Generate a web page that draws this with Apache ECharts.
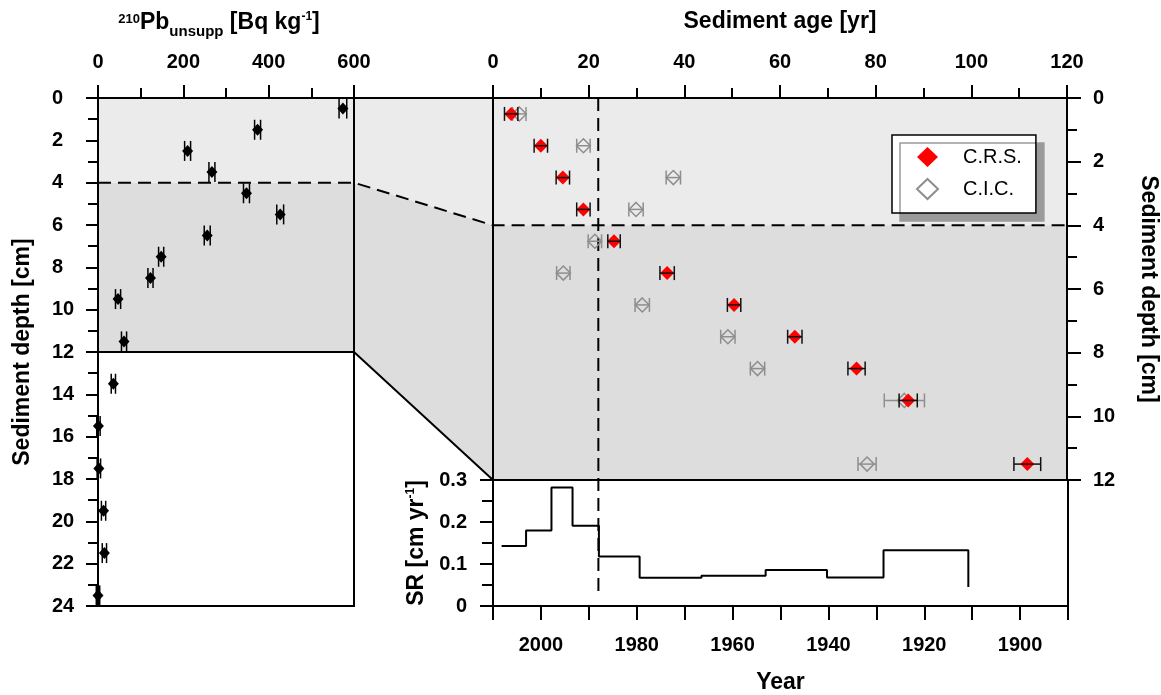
<!DOCTYPE html>
<html>
<head>
<meta charset="utf-8">
<title>210Pb dating</title>
<script src="https://cdn.jsdelivr.net/npm/echarts@6/dist/echarts.min.js"></script>
<style>
  html, body { margin: 0; padding: 0; background: #fff; }
  #main { width: 1161px; height: 695px; }
</style>
</head>
<body>
<div id="main"></div>
<script>
// left panel: unsupported 210Pb activity vs depth
var pbDepth = [0.5, 1.5, 2.5, 3.5, 4.5, 5.5, 6.5, 7.5, 8.5, 9.5, 11.5, 13.5, 15.5, 17.5, 19.5, 21.5, 23.5];
var pbActivity = [574, 374, 210, 267, 348, 427, 256, 148, 123, 47, 61, 36, 1, 2, 13, 15, 0];
var pbError = [9, 7, 7, 7, 7, 8, 7, 6, 6, 6, 6, 5, 4, 4, 5, 5, 4];

// right panel: sediment age vs depth
var ageDepth = [0.5, 1.5, 2.5, 3.5, 4.5, 5.5, 6.5, 7.5, 8.5, 9.5, 11.5];
var crsAge = [3.8, 10.0, 14.6, 18.9, 25.3, 36.4, 50.4, 63.1, 76.0, 86.8, 111.7];
var crsError = [1.4, 1.4, 1.4, 1.4, 1.3, 1.5, 1.4, 1.5, 1.8, 1.9, 2.8];
var cicAge = [5.5, 18.9, 37.7, 29.9, 21.3, 14.7, 31.2, 49.1, 55.3, 86.0, 78.2];
var cicError = [1.4, 1.4, 1.5, 1.5, 1.4, 1.4, 1.5, 1.5, 1.5, 4.2, 1.9];

// bottom panel: sedimentation rate (step starts, last value = end of line)
var srYear = [2008.2, 2003.1, 1997.8, 1993.4, 1987.9, 1979.4, 1966.5, 1953.1, 1940.3, 1928.5, 1910.8];
var srValue = [0.143, 0.180, 0.282, 0.191, 0.118, 0.067, 0.072, 0.086, 0.068, 0.133, 0.045];

var depthBreak = 4;   // dashed boundary
var depthEnd = 12;    // dated section
var markerAge = 22;   // vertical dashed line
var sampleYear = 2010;

var font = '"Liberation Sans", Arial, Helvetica, sans-serif';
var black = '#000';
var grey = '#8e8e8e';
var lightShade = '#ebebeb';
var darkShade = '#dddddd';

var chart = echarts.init(document.getElementById('main'));

function line2() { return { show: true, onZero: false, lineStyle: { color: black, width: 2 } }; }
function tick(len) { return { show: true, length: len, lineStyle: { color: black, width: 2 } }; }
function minor(len) { return { show: true, splitNumber: 2, length: len, lineStyle: { color: black, width: 2 } }; }
function label(margin, extra) {
  var o = { fontSize: 20, fontWeight: 'bold', color: black, fontFamily: font, margin: margin };
  for (var k in extra) o[k] = extra[k];
  return o;
}
var nameStyle = { fontSize: 23, fontWeight: 'bold', color: black, fontFamily: font };
var richParts = {
  main: { fontSize: 23, fontWeight: 'bold', fontFamily: font, color: black, lineHeight: 32, verticalAlign: 'middle' },
  sup: { fontSize: 13, fontWeight: 'bold', fontFamily: font, color: black, verticalAlign: 'top', padding: [6, 0, 0, 0] },
  sub: { fontSize: 15, fontWeight: 'bold', fontFamily: font, color: black, lineHeight: 20, verticalAlign: 'bottom' },
  sup2: { fontSize: 12, fontWeight: 'bold', fontFamily: font, color: black, verticalAlign: 'top', padding: [4, 0, 0, 0] }
};

// horizontal error bar with vertical caps (pixel cap half height)
function xErrBar(color, cap, width) {
  return function (params, api) {
    var v = api.value(0), d = api.value(1), e = api.value(2);
    var a = api.coord([v - e, d]), b = api.coord([v + e, d]);
    var st = { stroke: color, lineWidth: width };
    return {
      type: 'group',
      children: [
        { type: 'line', shape: { x1: a[0], y1: a[1], x2: b[0], y2: b[1] }, style: st },
        { type: 'line', shape: { x1: a[0], y1: a[1] - cap, x2: a[0], y2: a[1] + cap }, style: st },
        { type: 'line', shape: { x1: b[0], y1: b[1] - cap, x2: b[0], y2: b[1] + cap }, style: st }
      ]
    };
  };
}

function zip3(a, b, c) {
  return a.map(function (v, i) { return [v, b[i], c[i]]; });
}

var option = {
  animation: false,
  backgroundColor: '#fff',
  textStyle: { fontFamily: font },
  grid: [
    { left: 98, top: 98, width: 256, height: 508, show: true, borderColor: black, borderWidth: 2, backgroundColor: 'transparent' },
    { left: 493, top: 98, width: 575, height: 382, show: true, borderColor: black, borderWidth: 2, backgroundColor: 'transparent' },
    { left: 493, top: 480, width: 575, height: 127, show: true, borderColor: black, borderWidth: 2, backgroundColor: 'transparent' }
  ],
  xAxis: [
    {
      gridIndex: 0, type: 'value', position: 'top', min: 0, max: 600, interval: 200,
      splitLine: { show: false }, axisLine: line2(), axisTick: tick(13), minorTick: minor(10),
      axisLabel: label(26),
      name: '{sup|210}{main|Pb}{sub|unsupp}{main| [Bq kg}{sup2|-1}{main|]}',
      nameLocation: 'middle', nameGap: 59,
      nameTextStyle: { rich: richParts, padding: [0, 14, 0, 0] }
    },
    {
      gridIndex: 1, type: 'value', position: 'top', min: 0, max: 120, interval: 20,
      splitLine: { show: false }, axisLine: line2(), axisTick: tick(13), minorTick: minor(10),
      axisLabel: label(26),
      name: 'Sediment age [yr]', nameLocation: 'middle', nameGap: 65, nameTextStyle: nameStyle
    },
    {
      gridIndex: 2, type: 'value', position: 'bottom', min: 1890, max: 2010, interval: 10, inverse: true,
      splitLine: { show: false }, axisLine: line2(), axisTick: tick(14),
      axisLabel: label(29, { formatter: function (v) { return v % 20 === 0 ? String(v) : ''; } }),
      name: 'Year', nameLocation: 'middle', nameGap: 65, nameTextStyle: nameStyle
    }
  ],
  yAxis: [
    {
      gridIndex: 0, type: 'value', inverse: true, min: 0, max: 24, interval: 2,
      splitLine: { show: false }, axisLine: line2(), axisTick: tick(12), minorTick: minor(10),
      axisLabel: label(46, { align: 'left' }),
      name: 'Sediment depth [cm]', nameLocation: 'middle', nameRotate: 90, nameGap: 64, nameTextStyle: nameStyle
    },
    {
      gridIndex: 1, type: 'value', position: 'right', inverse: true, min: 0, max: 12, interval: 2,
      splitLine: { show: false }, axisLine: line2(), axisTick: tick(14), minorTick: minor(10),
      axisLabel: label(26),
      name: 'Sediment depth [cm]', nameLocation: 'middle', nameRotate: -90, nameGap: 70, nameTextStyle: nameStyle
    },
    {
      gridIndex: 2, type: 'value', min: 0, max: 0.3, interval: 0.1,
      splitLine: { show: false }, axisLine: line2(), axisTick: tick(13), minorTick: minor(11),
      axisLabel: label(26),
      name: '{main|SR [cm yr}{sup2|-1}{main|]}', nameLocation: 'middle', nameRotate: 90, nameGap: 60,
      nameTextStyle: { rich: richParts }
    }
  ],
  legend: {
    orient: 'vertical', left: 892, top: 135,
    data: [{ name: 'C.R.S.', icon: 'diamond' }, { name: 'C.I.C.', icon: 'diamond' }],
    itemWidth: 21, itemHeight: 20, itemGap: 11,
    padding: [12, 14, 13, 24],
    backgroundColor: '#fff', borderColor: black, borderWidth: 1.5, borderRadius: 0,
    shadowColor: '#9a9a9a', shadowOffsetX: 8, shadowOffsetY: 8, shadowBlur: 0,
    selectedMode: false,
    textStyle: { fontSize: 20, color: black, fontFamily: font, padding: [0, 0, 0, 20] }
  },
  series: [
    {
      name: 'pb-err', type: 'custom', xAxisIndex: 0, yAxisIndex: 0, z: 3,
      renderItem: function (params, api) {
        var v = api.value(0), d = api.value(1), e = api.value(2);
        var l = api.coord([v - e, d]), r = api.coord([v + e, d]);
        var st = { stroke: black, lineWidth: 1.5 };
        return {
          type: 'group',
          children: [
            { type: 'line', shape: { x1: l[0], y1: l[1] - 10, x2: l[0], y2: l[1] + 10 }, style: st },
            { type: 'line', shape: { x1: r[0], y1: r[1] - 10, x2: r[0], y2: r[1] + 10 }, style: st }
          ]
        };
      },
      encode: { x: 0, y: 1 },
      data: zip3(pbActivity, pbDepth, pbError)
    },
    {
      name: 'pb', type: 'scatter', xAxisIndex: 0, yAxisIndex: 0, z: 4,
      symbol: 'diamond', symbolSize: [11, 12],
      itemStyle: { color: black, opacity: 1 },
      data: pbActivity.map(function (v, i) { return [v, pbDepth[i]]; })
    },
    {
      name: 'cic-err', type: 'custom', xAxisIndex: 1, yAxisIndex: 1, z: 3,
      renderItem: xErrBar(grey, 7, 1.5), encode: { x: 0, y: 1 },
      data: zip3(cicAge, ageDepth, cicError)
    },
    {
      name: 'C.I.C.', type: 'scatter', xAxisIndex: 1, yAxisIndex: 1, z: 4,
      symbol: 'diamond', symbolSize: [14, 14],
      itemStyle: { color: 'rgba(0,0,0,0)', borderColor: grey, borderWidth: 1.5, opacity: 1 },
      data: cicAge.map(function (v, i) { return [v, ageDepth[i]]; })
    },
    {
      name: 'C.R.S.', type: 'scatter', xAxisIndex: 1, yAxisIndex: 1, z: 5,
      symbol: 'diamond', symbolSize: [14, 14],
      itemStyle: { color: '#ff0000', opacity: 1 },
      data: crsAge.map(function (v, i) { return [v, ageDepth[i]]; })
    },
    {
      name: 'crs-err', type: 'custom', xAxisIndex: 1, yAxisIndex: 1, z: 6,
      renderItem: xErrBar('#111', 7, 1.5), encode: { x: 0, y: 1 },
      data: zip3(crsAge, ageDepth, crsError)
    },
    {
      name: 'SR', type: 'line', xAxisIndex: 2, yAxisIndex: 2, step: 'end',
      showSymbol: false, symbol: 'none',
      lineStyle: { color: black, width: 2 },
      data: srYear.map(function (y, i) { return [y, srValue[i]]; })
    }
  ]
};

chart.setOption(option);

// shaded zones, boundary lines and connectors between the panels
function px(g, v) { return chart.convertToPixel({ gridIndex: g }, v); }

var lightZone = [px(0, [0, 0]), px(0, [600, 0]), px(1, [0, 0]), px(1, [120, 0]),
  px(1, [120, depthBreak]), px(1, [0, depthBreak]), px(0, [600, depthBreak]), px(0, [0, depthBreak])];
var darkZone = [px(0, [0, depthBreak]), px(0, [600, depthBreak]), px(1, [0, depthBreak]), px(1, [120, depthBreak]),
  px(1, [120, depthEnd]), px(1, [0, depthEnd]), px(0, [600, depthEnd]), px(0, [0, depthEnd])];
var dashedPath = [px(0, [0, depthBreak]), px(0, [600, depthBreak]), px(1, [0, depthBreak]), px(1, [120, depthBreak])];
var solidPath = [px(0, [0, depthEnd]), px(0, [600, depthEnd]), px(1, [0, depthEnd])];
var topPath = [px(0, [600, 0]), px(1, [0, 0])];
var markTop = px(1, [markerAge, 0]);
var markBottom = px(2, [sampleYear - markerAge, 0.02]);

chart.setOption({
  graphic: [
    { type: 'polygon', silent: true, z: -1, shape: { points: lightZone }, style: { fill: lightShade } },
    { type: 'polygon', silent: true, z: -1, shape: { points: darkZone }, style: { fill: darkShade } },
    { type: 'polyline', silent: true, z: 1, shape: { points: dashedPath },
      style: { stroke: black, lineWidth: 2, lineDash: [13, 7], fill: null } },
    { type: 'polyline', silent: true, z: 1, shape: { points: solidPath },
      style: { stroke: black, lineWidth: 2, fill: null } },
    { type: 'polyline', silent: true, z: 1, shape: { points: topPath },
      style: { stroke: black, lineWidth: 2, fill: null } },
    { type: 'line', silent: true, z: 1,
      shape: { x1: markTop[0], y1: markTop[1], x2: markBottom[0], y2: markBottom[1] },
      style: { stroke: black, lineWidth: 2, lineDash: [13, 7] } }
  ]
});
</script>
</body>
</html>
